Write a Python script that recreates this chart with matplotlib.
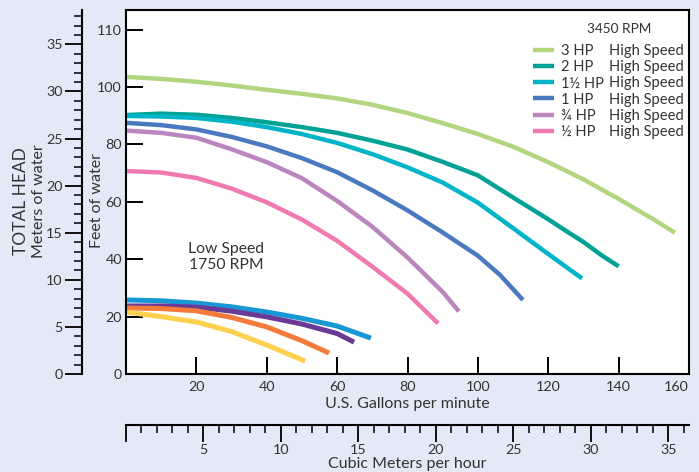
import matplotlib
matplotlib.use('Agg')
import matplotlib.pyplot as plt
from matplotlib.lines import Line2D
from matplotlib.ticker import MultipleLocator

plt.rcParams['font.family'] = ['Lato', 'DejaVu Sans']

# ---------------------------------------------------------------------------
# Pump curves: flow in US gpm, head in feet of water
# ---------------------------------------------------------------------------

# High speed, 3450 RPM
HP3_GPM = [0, 10, 20, 30, 40, 50, 60, 70, 80, 90, 100, 110, 120, 130, 140, 150, 156]
HP3_FT = [103.5, 102.8, 101.8, 100.5, 99.0, 97.6, 96.0, 93.8, 90.9, 87.4, 83.6,
          79.2, 73.8, 67.8, 61.0, 53.8, 49.2]

HP2_GPM = [0, 10, 20, 30, 40, 50, 60, 70, 80, 90, 100, 110, 120, 126, 130, 135, 140]
HP2_FT = [90.2, 90.7, 90.3, 89.2, 87.7, 86.0, 84.0, 81.3, 78.2, 73.9, 69.2, 61.5,
          53.9, 49.1, 46.0, 41.5, 37.5]

HP15_GPM = [0, 10, 20, 30, 40, 50, 60, 70, 80, 90, 100, 110, 120, 129.6]
HP15_FT = [89.9, 89.7, 89.2, 87.9, 86.0, 83.6, 80.5, 76.6, 72.0, 66.7, 59.7, 50.8,
           41.8, 33.3]

HP1_GPM = [0, 10, 20, 30, 40, 50, 60, 70, 80, 90, 100, 106.3, 112.8]
HP1_FT = [87.5, 86.7, 85.2, 82.6, 79.3, 75.2, 70.3, 64.0, 57.0, 49.3, 41.2, 34.5, 25.8]

HP34_GPM = [0, 10, 20, 30, 40, 50, 60, 70, 80, 90, 94.6]
HP34_FT = [84.8, 84.0, 82.3, 78.3, 73.8, 68.2, 60.3, 51.3, 40.6, 28.6, 21.8]

HP12_GPM = [0, 10, 20, 30, 40, 50, 60, 70, 80, 88.7]
HP12_FT = [70.7, 70.2, 68.3, 64.6, 59.8, 53.8, 46.4, 37.4, 28.0, 17.6]

# Low speed, 1750 RPM
LOW_BLUE_GPM = [0, 10, 20, 30, 40, 50, 60, 69.6]
LOW_BLUE_FT = [25.8, 25.5, 24.7, 23.4, 21.6, 19.4, 16.7, 12.5]

LOW_PURPLE_GPM = [0, 10, 20, 30, 40, 50, 60, 64.8]
LOW_PURPLE_FT = [23.7, 23.7, 23.3, 21.9, 19.9, 17.4, 14.1, 11.1]

LOW_ORANGE_GPM = [0, 10, 20, 30, 40, 50, 57.7]
LOW_ORANGE_FT = [23.0, 22.8, 22.0, 19.7, 16.4, 11.6, 7.3]

LOW_YELLOW_GPM = [0, 10, 20, 30, 40, 50.9]
LOW_YELLOW_FT = [21.6, 20.0, 18.1, 14.8, 10.1, 4.5]

HIGH_LABELS = ['3 HP', '2 HP', '1\u00bd HP', '1 HP', '\u00be HP', '\u00bd HP']

X_TICKS = [20, 40, 60, 80, 100, 120, 140, 160]
Y_TICKS = [0, 20, 40, 60, 80, 100, 120]
Y_TICK_LABELS = ['0', '20', '40', '60', '80', '100', '110']
M_TICKS = [0, 5, 10, 15, 20, 25, 30, 35]
M3H_TICKS = [0, 5, 10, 15, 20, 25, 30, 35]
M3H_TICK_LABELS = ['', '5', '10', '15', '20', '25', '30', '35']

BG = '#e3e9f6'
TXT = '#333333'


def ft2m(ft):
    return ft * 0.3048

def m2ft(m):
    return m / 0.3048

def gpm2m3h(q):
    return q * 0.22712

def m3h2gpm(q):
    return q / 0.22712


fig = plt.figure(figsize=(6.99, 4.72), dpi=100, facecolor=BG)
ax = fig.add_axes([126 / 699, 1 - 374 / 472, 563 / 699, 364 / 472])
ax.set_facecolor('white')

high = [
    (HP3_GPM, HP3_FT, '#b2d67f'),
    (HP2_GPM, HP2_FT, '#00a295'),
    (HP15_GPM, HP15_FT, '#00b4c8'),
    (HP1_GPM, HP1_FT, '#4b79c0'),
    (HP34_GPM, HP34_FT, '#bb86be'),
    (HP12_GPM, HP12_FT, '#f07ab0'),
]
high_lines = []
for q, h, c in high:
    ln, = ax.plot(q, h, color=c, lw=3.2, solid_capstyle='butt',
                  solid_joinstyle='round')
    high_lines.append(ln)

low = [
    (LOW_BLUE_GPM, LOW_BLUE_FT, '#1798d4'),
    (LOW_PURPLE_GPM, LOW_PURPLE_FT, '#6a3a97'),
    (LOW_ORANGE_GPM, LOW_ORANGE_FT, '#f47b3b'),
    (LOW_YELLOW_GPM, LOW_YELLOW_FT, '#fdd14e'),
]
for q, h, c in low:
    ax.plot(q, h, color=c, lw=3.6, solid_capstyle='butt',
            solid_joinstyle='round')

ax.set_xlim(0, 160)
ax.set_ylim(0, 126.8)

for s in ax.spines.values():
    s.set_color('black')
    s.set_linewidth(1.5)

ax.set_xticks(X_TICKS)
ax.set_xticklabels([str(t) for t in X_TICKS])
ax.get_xticklabels()[-1].set_horizontalalignment('right')  # 160 sits in the corner
ax.set_yticks(Y_TICKS)
ax.set_yticklabels(Y_TICK_LABELS)
ax.tick_params(axis='both', direction='in', length=12, width=1.4,
               colors='black', labelcolor=TXT, labelsize=10.3)
ax.tick_params(axis='x', pad=5)
ax.tick_params(axis='y', pad=3)

ax.set_xlabel('U.S. Gallons per minute', fontsize=11.5, color=TXT)
ax.xaxis.set_label_coords(0.5, -(397 - 374) / 364)
ax.set_ylabel('Feet of water', fontsize=11.5, color=TXT)
ax.yaxis.set_label_coords((104 - 126) / 563, (374 - 200) / 364)

# meters of head, second scale on the left
sec_y = ax.secondary_yaxis((82 - 126) / 563, functions=(ft2m, m2ft))
sec_y.set_yticks(M_TICKS)
sec_y.yaxis.set_minor_locator(MultipleLocator(1))
sec_y.tick_params(which='major', direction='out', length=12, width=1.3,
                  colors='black', labelcolor=TXT, labelsize=10.3, pad=2)
sec_y.tick_params(which='minor', direction='out', length=6, width=1.1,
                  colors='black')
sec_y.spines['left'].set_linewidth(1.5)

# cubic meters per hour, second scale below
sec_x = ax.secondary_xaxis(-(425 - 374) / 364, functions=(gpm2m3h, m3h2gpm))
sec_x.set_xticks(M3H_TICKS)
sec_x.set_xticklabels(M3H_TICK_LABELS)
sec_x.xaxis.set_minor_locator(MultipleLocator(1))
sec_x.tick_params(which='major', direction='out', length=12, width=1.3,
                  colors='black', labelcolor=TXT, labelsize=10.3, pad=2)
sec_x.tick_params(which='minor', direction='out', length=6, width=1.1,
                  colors='black')
sec_x.spines['bottom'].set_linewidth(1.5)

fig.text(407 / 699, 1 - 464 / 472, 'Cubic Meters per hour', fontsize=11.5,
         color=TXT, ha='center', va='center')
fig.text(21 / 699, 1 - 201 / 472, 'TOTAL HEAD', fontsize=12.5, color=TXT,
         rotation=90, ha='center', va='center')
fig.text(39 / 699, 1 - 201 / 472, 'Meters of water', fontsize=11.5,
         color=TXT, rotation=90, ha='center', va='center')

ax.text(28.4, 40.8, 'Low Speed\n1750 RPM', fontsize=11.3, color=TXT,
        ha='center', va='center', linespacing=1.25)

# legend: first column is the HP rating, second column "High Speed"
blank = [Line2D([], [], linestyle='none') for _ in HIGH_LABELS]
leg = ax.legend(high_lines + blank, HIGH_LABELS + ['High Speed'] * 6,
                ncol=2, frameon=False, loc='upper left',
                bbox_to_anchor=((533 - 126) / 563, (374 - 44) / 364),
                borderpad=0, borderaxespad=0, fontsize=10.6,
                handlelength=1.46, handletextpad=0.47, columnspacing=-1.6,
                labelspacing=0.15, labelcolor=TXT)
ax.text((619 - 126) / 563, (374 - 29) / 364, '3450 RPM', transform=ax.transAxes,
        fontsize=9.8, color=TXT, ha='center', va='center')

fig.savefig('out.png', dpi=100, facecolor=BG)
